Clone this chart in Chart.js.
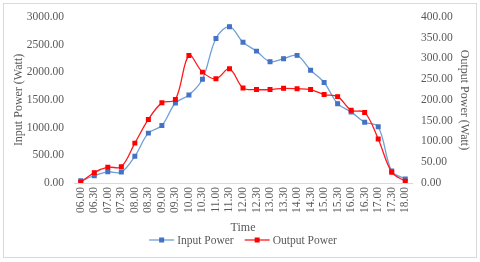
<!DOCTYPE html>
<html>
<head>
<meta charset="utf-8">
<script src="https://cdn.jsdelivr.net/npm/chart.js@4.4.0/dist/chart.umd.min.js"></script>
<style>
    html, body { margin: 0; padding: 0; background: #fff; }
    #wrap { width: 480px; height: 262px; position: relative; }
</style>
</head>
<body>
<div id="wrap"><canvas id="powerChart"></canvas></div>
<script>
// time of day (x axis)
const times = ['06.00', '06.30', '07.00', '07.30', '08.00', '08.30', '09.00', '09.30', '10.00', '10.30',
    '11.00', '11.30', '12.00', '12.30', '13.00', '13.30', '14.00', '14.30', '15.00', '15.30',
    '16.00', '16.30', '17.00', '17.30', '18.00'];

// input power in watt (left axis)
const inputPower = [40, 131, 202, 197, 483, 901, 1039, 1445, 1589, 1875,
    2610, 2824, 2543, 2382, 2191, 2245, 2305, 2036, 1815, 1433,
    1284, 1098, 1015, 215, 72];

// output power in watt (right axis)
const outputPower = [2, 25, 38, 39, 96, 153, 193, 201, 307, 267,
    251, 275, 229, 225, 225, 228, 227, 225, 213, 208,
    175, 170, 106, 26, 4];

const seriesNames = ['Input Power', 'Output Power'];

const txtColor = '#595959';
const fontFam = '"Liberation Serif", "Times New Roman", serif';

// white background + thin frame like the excel chart
const framePlugin = {
    id: 'frame',
    beforeDraw(chart) {
        const c = chart.ctx;
        c.save();
        c.fillStyle = '#fff';
        c.fillRect(0, 0, chart.width, chart.height);
        c.strokeStyle = '#d9d9d9';
        c.lineWidth = 1;
        c.strokeRect(3.5, 3.5, 473, 254);
        c.restore();
    }
};

// legend with line + marker, drawn under the axis title
const lineLegend = {
    id: 'lineLegend',
    afterDraw(chart) {
        const c = chart.ctx;
        c.save();
        c.font = '11.5px ' + fontFam;
        c.textBaseline = 'middle';
        const lineLen = 25, gap = 3, between = 11;
        const items = chart.data.datasets.map(ds => ({
            ds: ds,
            w: lineLen + gap + c.measureText(ds.label).width
        }));
        const total = items.reduce((s, it) => s + it.w, 0) + between * (items.length - 1);
        let x = (chart.chartArea.left + chart.chartArea.right) / 2 - total / 2;
        const y = 240;
        items.forEach(it => {
            c.strokeStyle = it.ds.borderColor;
            c.lineWidth = 1.3;
            c.beginPath();
            c.moveTo(x, y);
            c.lineTo(x + lineLen, y);
            c.stroke();
            c.fillStyle = it.ds.pointBackgroundColor;
            c.fillRect(x + lineLen / 2 - 2.5, y - 2.5, 5, 5);
            c.fillStyle = txtColor;
            c.fillText(it.ds.label, x + lineLen + gap, y + 0.5);
            x += it.w + between;
        });
        c.restore();
    }
};

const ctx = document.getElementById('powerChart').getContext('2d');

new Chart(ctx, {
    type: 'line',
    data: {
        labels: times,
        datasets: [
            {
                label: seriesNames[0],
                data: inputPower,
                yAxisID: 'y',
                borderColor: '#6f9fd8',
                backgroundColor: '#4472c4',
                pointBackgroundColor: '#4472c4',
                pointBorderColor: '#4472c4',
                pointStyle: 'rect',
                pointRadius: 2.6,
                borderWidth: 1.3,
                tension: 0.35,
                order: 2
            },
            {
                label: seriesNames[1],
                data: outputPower,
                yAxisID: 'y1',
                borderColor: '#ff1a1a',
                backgroundColor: '#ff0000',
                pointBackgroundColor: '#ff0000',
                pointBorderColor: '#ff0000',
                pointStyle: 'rect',
                pointRadius: 2.6,
                borderWidth: 1.3,
                tension: 0.35,
                order: 1
            }
        ]
    },
    options: {
        responsive: true,
        maintainAspectRatio: false,
        animation: false,
        layout: {
            padding: { top: 9, right: 9, bottom: 27, left: 12 }
        },
        plugins: {
            legend: { display: false },
            tooltip: { enabled: false }
        },
        scales: {
            x: {
                offset: true,
                grid: { display: false, drawTicks: false },
                border: { display: true, color: '#d9d9d9' },
                ticks: {
                    color: txtColor,
                    font: { family: fontFam, size: 11.5 },
                    minRotation: 90,
                    maxRotation: 90,
                    autoSkip: false,
                    padding: 4
                },
                title: {
                    display: true,
                    text: 'Time',
                    color: txtColor,
                    font: { family: fontFam, size: 12 },
                    padding: { top: 2, bottom: 0 }
                },
                afterFit(scale) { scale.height = 52; }
            },
            y: {
                position: 'left',
                min: 0,
                max: 3000,
                grid: { display: false, drawTicks: false },
                border: { display: false },
                ticks: {
                    stepSize: 500,
                    color: txtColor,
                    font: { family: fontFam, size: 11.5 },
                    padding: 10,
                    callback: v => v.toFixed(2)
                },
                title: {
                    display: true,
                    text: 'Input Power (Watt)',
                    color: txtColor,
                    font: { family: fontFam, size: 12 },
                    padding: 0
                },
                afterFit(scale) { scale.width = 62; }
            },
            y1: {
                position: 'right',
                min: 0,
                max: 400,
                grid: { display: false, drawTicks: false },
                border: { display: false },
                ticks: {
                    stepSize: 50,
                    color: txtColor,
                    font: { family: fontFam, size: 11.5 },
                    padding: 9,
                    callback: v => v.toFixed(2)
                },
                title: {
                    display: true,
                    text: 'Output Power (Watt)',
                    color: txtColor,
                    font: { family: fontFam, size: 12 },
                    padding: 0
                },
                afterFit(scale) { scale.width = 59; }
            }
        }
    },
    plugins: [framePlugin, lineLegend]
});
</script>
</body>
</html>
